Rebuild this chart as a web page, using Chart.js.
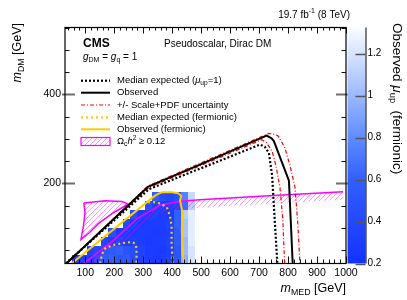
<!DOCTYPE html>
<html><head><meta charset="utf-8">
<script src="https://cdn.jsdelivr.net/npm/chart.js@4.4.1/dist/chart.umd.min.js"></script>
<style>html,body{margin:0;padding:0;background:#fff;}canvas{display:block;}</style>
</head><body>
<canvas id="c" width="407" height="300"></canvas>
<script>
// ---------------- data ----------------
const xTickLabels = [100,200,300,400,500,600,700,800,900,1000];
const yTickLabels = [200,400];
const cbTickLabels = [0.2,0.4,0.6,0.8,1,1.2];

const observed      = [[35,20],[316,192],[496,242],[726,307],[743,301],[751,295],[803,206],[816,20]];
const medianExp     = [[33,20],[320,187],[703,287],[720,282],[734,268],[745,217],[755,106],[763,20]];
const scalePdfUp    = [[34,20],[316,194],[733,312],[748,311],[765,307],[789,280],[807,239],[824,191],[834,106],[841,20]];
const scalePdfDown  = [[33,20],[318,190],[709,298],[725,292],[745,272],[758,240],[772,191],[782,117],[788,20]];
const obsFermionic  = [[53,20],[334,169],[350,176],[365,180],[400,180],[420,178],[431,172],[427,162],[436,132],[433,95],[438,36],[444,20]];
const expFermionicA = [[317,158],[335,158],[358,155],[381,147],[392,128],[398,103],[398,64],[402,20]];
const expFermionicB = [[151,20],[157,40],[170,55],[200,62],[240,67],[262,68],[275,63],[277,45],[277,20]];
const relicLine     = [[96,21],[192,69],[278,120],[358,151],[427,160],[496,163],[703,171],[990,181]];
const relicLoop     = [[95,156],[168,161],[227,159],[246,154],[234,148],[192,132],[146,110],[112,88],[85,74],[94,105],[99,135],[95,156]];

// heat map of observed mu_up (fermionic): bin edges and values (rows from bottom)
const heatXEdges = [30,55,80,105,130,155,180,205,230,255,280,305,330,355,380,405,430,455,480];
const heatYEdges = [20,40,60,80,100,120,140,160,180];
const _ = null;
const heatValues = [
  [_,0.30,0.32,0.30,0.45,0.55,0.60,0.50,0.55,0.45,0.35,0.30,0.28,0.30,0.35,0.50,0.95,1.20],
  [_,_,_,0.35,0.40,0.50,0.55,0.60,0.50,0.45,0.35,0.30,0.30,0.28,0.32,0.50,1.00,1.20],
  [_,_,_,_,_,0.38,0.32,0.35,0.30,0.32,0.30,0.28,0.30,0.30,0.35,0.55,1.00,1.25],
  [_,_,_,_,_,_,0.45,0.30,0.30,0.28,0.30,0.30,0.28,0.30,0.32,0.55,1.05,1.25],
  [_,_,_,_,_,_,_,_,0.40,0.30,0.28,0.30,0.30,0.30,0.35,0.60,1.05,1.25],
  [_,_,_,_,_,_,_,_,_,0.45,0.30,0.30,0.32,0.30,0.30,0.60,1.10,1.25],
  [_,_,_,_,_,_,_,_,_,_,_,0.45,0.35,0.32,0.30,0.35,0.65,1.10],
  [_,_,_,_,_,_,_,_,_,_,_,_,0.60,0.45,0.40,0.45,0.75,1.15]
];

// ---------------- style helpers ----------------
const FONT = '"Liberation Sans", Arial, Helvetica, sans-serif';
const MAG = '#ff00ff';
const GOLD = '#ffcc00';
const cmapStops = [[0.2,[20,50,255]],[0.6,[50,95,255]],[0.8,[95,140,255]],[1.0,[155,185,255]],[1.2,[215,228,255]],[1.325,[250,252,255]]];
function colorFor(v){
  if (v <= cmapStops[0][0]) return 'rgb('+cmapStops[0][1].join(',')+')';
  for (let k=1;k<cmapStops.length;k++){
    const [v1,c1]=cmapStops[k], [v0,c0]=cmapStops[k-1];
    if (v <= v1){ const t=(v-v0)/(v1-v0); return 'rgb('+c0.map((c,i)=>Math.round(c+(c1[i]-c)*t)).join(',')+')'; }
  }
  return 'rgb('+cmapStops[cmapStops.length-1][1].join(',')+')';
}
let hatchPattern = null;
function getHatch(ctx){
  if (hatchPattern) return hatchPattern;
  const c=document.createElement('canvas'); c.width=5; c.height=5;
  const g=c.getContext('2d'); g.strokeStyle='rgba(255,0,255,0.6)'; g.lineWidth=0.7;
  g.beginPath(); g.moveTo(0,5); g.lineTo(5,0); g.moveTo(-2,2); g.lineTo(2,-2); g.moveTo(3,7); g.lineTo(7,3); g.stroke();
  hatchPattern = ctx.createPattern(c,'repeat'); return hatchPattern;
}
function segFont(s,size){ const sz=(s.sub||s.sup)?size*0.7:size; return (s.i?'italic ':'')+(s.b?'bold ':'')+sz.toFixed(1)+'px '+FONT; }
function richWidth(ctx,segs,size){ let w=0; for(const s of segs){ ctx.font=segFont(s,size); w+=ctx.measureText(s.t).width; } return w; }
function drawRich(ctx,segs,x,y,size){
  ctx.textBaseline='middle'; ctx.textAlign='left';
  for(const s of segs){ ctx.font=segFont(s,size); const dy=s.sub?size*0.3:(s.sup?-size*0.35:0); ctx.fillText(s.t,x,y+dy); x+=ctx.measureText(s.t).width; }
  return x;
}
const pts = a => a.map(([x,y])=>({x,y}));
function line(label, data, color, width, dash, extra){
  return Object.assign({label, data:pts(data), borderColor:color, backgroundColor:color, borderWidth:width, borderDash:dash, showLine:true, pointRadius:0, fill:false, tension:0}, extra||{});
}

// ---------------- plugins ----------------
const heatPlugin = {
  id:'heat',
  beforeDatasetsDraw(chart){
    const {ctx, chartArea:a, scales:{x,y}} = chart;
    ctx.save(); ctx.beginPath(); ctx.rect(a.left,a.top,a.width,a.height); ctx.clip();
    heatValues.forEach((row,j)=>row.forEach((v,i)=>{
      if (v===null) return;
      const x0=Math.round(x.getPixelForValue(heatXEdges[i])), x1=Math.round(x.getPixelForValue(heatXEdges[i+1]));
      const y0=Math.round(y.getPixelForValue(heatYEdges[j])), y1=Math.round(y.getPixelForValue(heatYEdges[j+1]));
      ctx.fillStyle=colorFor(v); ctx.fillRect(x0,y1,x1-x0,y0-y1);
    }));
    ctx.restore();
  }
};
const hatchPlugin = {
  id:'hatch',
  beforeDatasetsDraw(chart){
    const {ctx, chartArea:a} = chart;
    ctx.save(); ctx.beginPath(); ctx.rect(a.left,a.top,a.width,a.height); ctx.clip();
    ctx.fillStyle=getHatch(ctx);
    chart.data.datasets.forEach((ds,i)=>{
      const p = chart.getDatasetMeta(i).data.map(e=>({x:e.x,y:e.y}));
      if (ds.hatchBand){
        const W=8, off=[];
        for(let k=0;k<p.length;k++){
          const A=p[Math.max(0,k-1)], B=p[Math.min(p.length-1,k+1)];
          let dx=B.x-A.x, dy=B.y-A.y; const L=Math.hypot(dx,dy)||1; dx/=L; dy/=L;
          off.push({x:p[k].x-dy*W, y:p[k].y+dx*W});
        }
        ctx.beginPath(); ctx.moveTo(p[0].x,p[0].y); p.forEach(q=>ctx.lineTo(q.x,q.y));
        for(let k=off.length-1;k>=0;k--) ctx.lineTo(off[k].x,off[k].y);
        ctx.closePath(); ctx.fill();
      }
      if (ds.hatchFill){
        ctx.beginPath(); ctx.moveTo(p[0].x,p[0].y); p.forEach(q=>ctx.lineTo(q.x,q.y)); ctx.closePath(); ctx.fill();
      }
    });
    ctx.restore();
  }
};
const framePlugin = {
  id:'frame',
  afterDatasetsDraw(chart){
    const {ctx, chartArea:a, scales:{x,y}} = chart;
    ctx.save(); ctx.lineCap='butt';
    const seg=(x1,y1,x2,y2,maj)=>{ ctx.strokeStyle=maj?'#6e6e6e':'#111'; ctx.lineWidth=maj?2:1; ctx.beginPath(); ctx.moveTo(x1,y1); ctx.lineTo(x2,y2); ctx.stroke(); };
    for(let v=40; v<=1000; v+=20){
      const px=Math.round(x.getPixelForValue(v))+0.5, maj=(v%100===0);
      seg(px,a.bottom,px,a.bottom-(maj?7:4),false);
      seg(px,a.top,px,a.top+(maj?6:3),false);
    }
    for(let v=50; v<=550; v+=50){
      const py=Math.round(y.getPixelForValue(v))+0.5, maj=(v%200===0);
      seg(maj?a.left-3:a.left, py, a.left+(maj?10:4.5), py, maj);
      seg(a.right-(maj?10:4.5), py, maj?a.right+3:a.right, py, maj);
    }
    ctx.strokeStyle='#000'; ctx.lineWidth=1.2;
    ctx.strokeRect(a.left,a.top,a.right-a.left,a.bottom-a.top);
    ctx.restore();
  }
};
const textPlugin = {
  id:'texts',
  afterDraw(chart){
    const {ctx, chartArea:a, scales:{cb}} = chart;
    ctx.save();
    // colour bar
    const top=cb.getPixelForValue(1.325), bot=cb.getPixelForValue(0.2);
    const g=ctx.createLinearGradient(0,bot,0,top);
    cmapStops.forEach(([v,c])=>g.addColorStop((v-0.2)/1.125,'rgb('+c.join(',')+')'));
    const bx0=cb.left+1.5, bx1=cb.left+19.5;
    ctx.fillStyle=g; ctx.fillRect(bx0,top,bx1-bx0,bot-top);
    ctx.strokeStyle='#000'; ctx.lineWidth=1; ctx.beginPath(); ctx.moveTo(bx1+0.5,top); ctx.lineTo(bx1+0.5,bot); ctx.stroke();
    ctx.strokeStyle='#555'; ctx.lineWidth=1.5;
    cbTickLabels.forEach(v=>{ const py=Math.round(cb.getPixelForValue(v))+0.5; ctx.beginPath(); ctx.moveTo(bx1-10,py); ctx.lineTo(bx1,py); ctx.stroke(); });

    ctx.fillStyle='#000';
    // top-right lumi
    const lumi=[{t:'19.7 fb'},{t:'-1',sup:1},{t:' (8 TeV)'}];
    drawRich(ctx,lumi,350-richWidth(ctx,lumi,10),15,10);
    // CMS & model
    drawRich(ctx,[{t:'CMS',b:1}],83,44,12);
    drawRich(ctx,[{t:'Pseudoscalar, Dirac DM'}],164,44,10);
    drawRich(ctx,[{t:'g',i:1},{t:'DM',sub:1},{t:' = '},{t:'g',i:1},{t:'q',sub:1},{t:' = 1'}],83,57,10);
    // x title
    const xt=[{t:'m',i:1},{t:'MED',sub:1},{t:' [GeV]'}];
    drawRich(ctx,xt,346-richWidth(ctx,xt,12.5),289,12.5);
    // y title
    const yt=[{t:'m',i:1},{t:'DM',sub:1},{t:' [GeV]'}];
    ctx.save(); ctx.translate(18,23); ctx.rotate(-Math.PI/2);
    drawRich(ctx,yt,-richWidth(ctx,yt,12.5),0,12.5); ctx.restore();
    // colour bar title
    const zt=[{t:'Observed '},{t:'\u03bc',i:1},{t:'up',sub:1},{t:'  (fermionic)'}];
    ctx.save(); ctx.translate(397,23); ctx.rotate(Math.PI/2);
    drawRich(ctx,zt,0,0,13.5); ctx.restore();

    // legend
    const lx0=81, lx1=110, tx=117, fs=9.5;
    const entries=[
      {y:80.7, c:'#000', w:2.2, d:[2,2], t:[{t:'Median expected ('},{t:'\u03bc',i:1},{t:'up',sub:1},{t:'=1)'}]},
      {y:92.7, c:'#000', w:2, d:[], t:[{t:'Observed'}]},
      {y:105, c:'#ff0000', w:1.2, d:[4,2,1,2], t:[{t:'+/- Scale+PDF uncertainty'}]},
      {y:117.3, c:GOLD, w:2.2, d:[2,3], t:[{t:'Median expected (fermionic)'}]},
      {y:129.3, c:GOLD, w:2, d:[], t:[{t:'Observed (fermionic)'}]}
    ];
    entries.forEach(e=>{
      ctx.strokeStyle=e.c; ctx.lineWidth=e.w; ctx.setLineDash(e.d);
      ctx.beginPath(); ctx.moveTo(lx0,e.y); ctx.lineTo(lx1,e.y); ctx.stroke(); ctx.setLineDash([]);
      ctx.fillStyle='#000'; drawRich(ctx,e.t,tx,e.y,fs);
    });
    ctx.fillStyle=getHatch(ctx); ctx.fillRect(lx0,137.5,lx1-lx0,8);
    ctx.strokeStyle=MAG; ctx.lineWidth=1.2; ctx.strokeRect(lx0,137.5,lx1-lx0,8);
    ctx.fillStyle='#000';
    drawRich(ctx,[{t:'\u03a9'},{t:'c',sub:1},{t:'h',i:1},{t:'2',sup:1},{t:' \u2265 0.12'}],tx,141.7,fs);
    ctx.restore();
  }
};

// ---------------- chart ----------------
new Chart(document.getElementById('c'), {
  type:'scatter',
  data:{datasets:[
    line('Observed', observed, '#000', 2, []),
    line('Median expected', medianExp, '#000', 2.2, [2,2]),
    line('+/- Scale+PDF uncertainty', scalePdfUp, '#ff0000', 1.2, [4,2,1,2]),
    line('+/- Scale+PDF uncertainty (down)', scalePdfDown, '#ff0000', 1.2, [4,2,1,2]),
    line('Observed (fermionic)', obsFermionic, GOLD, 2, []),
    line('Median expected (fermionic)', expFermionicA, GOLD, 2.2, [2,3]),
    line('Median expected (fermionic) 2', expFermionicB, GOLD, 2.2, [2,3]),
    line('Relic density', relicLine, MAG, 1.5, [], {hatchBand:true}),
    line('Relic density loop', relicLoop, MAG, 1.5, [], {hatchFill:true})
  ]},
  options:{
    responsive:false, animation:false, devicePixelRatio:1, events:[],
    layout:{padding:{top:25.5,left:0,right:0,bottom:0}},
    plugins:{legend:{display:false}, tooltip:{enabled:false}},
    scales:{
      x:{type:'linear', position:'bottom', min:30, max:1000,
         grid:{display:false, drawTicks:false}, border:{display:false},
         ticks:{color:'#000', font:{family:FONT,size:10.5}, padding:3, maxRotation:0, autoSkip:false, callback:v=>String(v)},
         afterBuildTicks:s=>{ s.ticks=xTickLabels.map(v=>({value:v})); },
         afterFit:s=>{ s.height=36.5; }},
      y:{type:'linear', position:'left', min:20, max:550,
         grid:{display:false, drawTicks:false}, border:{display:false},
         ticks:{color:'#000', font:{family:FONT,size:10.5}, padding:4, callback:v=>String(v)},
         afterBuildTicks:s=>{ s.ticks=yTickLabels.map(v=>({value:v})); },
         afterFit:s=>{ s.width=65; }},
      cb:{axis:'y', type:'linear', position:'right', min:0.2, max:1.325,
         grid:{display:false, drawTicks:false}, border:{display:false},
         ticks:{color:'#000', font:{family:FONT,size:10}, padding:21.5, callback:v=>String(v)},
         afterBuildTicks:s=>{ s.ticks=cbTickLabels.map(v=>({value:v})); },
         afterFit:s=>{ s.width=61; }}
    }
  },
  plugins:[heatPlugin, hatchPlugin, framePlugin, textPlugin]
});
</script>
</body></html>
